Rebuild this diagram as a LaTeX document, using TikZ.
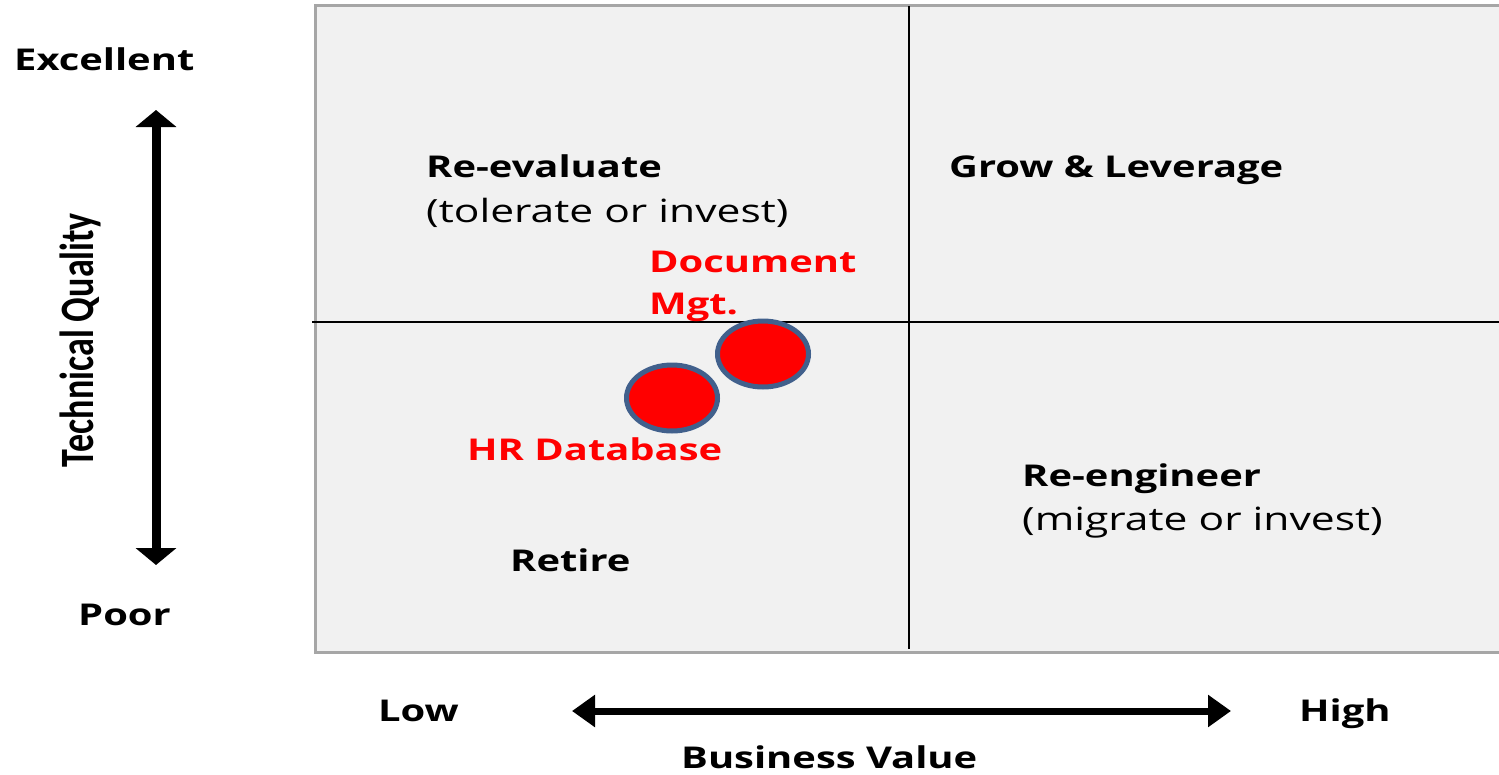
\documentclass[tikz,border=0pt]{standalone}
\usepackage{fontspec}
\setmainfont{Open Sans}[FakeStretch=1.33]
\newfontfamily\calibri{Carlito}
\usepackage{tikz}
\usetikzlibrary{arrows.meta,shapes,positioning}

\definecolor{panel}{HTML}{F1F1F1}
\definecolor{panelrule}{HTML}{A6A6A6}
\definecolor{ringblue}{HTML}{41608C}

\begin{document}
\begin{tikzpicture}[x=1bp,y=-1bp,inner sep=0pt,
font=\fontsize{32bp}{36bp}\selectfont]
\tikzstyle{quad}=[anchor=base west, font=\fontsize{30bp}{36bp}\selectfont\bfseries]
\tikzstyle{note}=[anchor=base west]
\tikzstyle{app}=[quad, text=red]
\tikzstyle{spot}=[ellipse, draw=ringblue, line width=5bp, fill=red,
 minimum width=91bp, minimum height=66bp]

\useasboundingbox (0,0) rectangle (1499,774);

%panel
\fill[panel] (315,6) rectangle (1499,652);
\draw[panelrule, line width=3bp] (1499,6) -- (315,6) -- (315,652) -- (1499,652);
\draw[line width=1.5bp] (909,6) -- (909,649);
\draw[line width=1.5bp] (312,322) -- (1499,322);

\node[quad] (REV) at (426,177) {Re-evaluate};
\node[below=45bp of REV.base west, note] (REVn) {(tolerate or invest)};

\node[quad] (GROW) at (949,177) {Grow \& Leverage};

\node[quad] (RENG) at (1022,486) {Re-engineer};
\node[below=44bp of RENG.base west, note] (RENGn) {(migrate or invest)};

\node[quad] (RET) at (510,571) {Retire};

%applications
\node[spot] (DOCs) at (763,354) {};
\node[spot] (HRs) at (672,398) {};
\node[app] (DOC) at (649,272) {Document};
\node[below=42bp of DOC.base west, app] (MGT) {Mgt.};
\node[app] (HR) at (467,460) {HR Database};

%axes
\node[quad] (EXC) at (14,71) {Excellent};
\node[quad] (POOR) at (78,625) {Poor};
\node[rotate=90, anchor=base, font=\calibri\bfseries\fontsize{36bp}{36bp}\selectfont]
 (TQ) at (93,340) {\scalebox{1}[1.33]{Technical Quality}};
\coordinate (TQtop) at (156,110);
\coordinate (TQbot) at (156,565);
\draw[line width=9bp, {Triangle[width=40bp,length=17bp]}-{Triangle[width=40bp,length=17bp]}]
 (TQtop) -- (TQbot);

\node[quad] (LOW) at (378,721) {Low};
\node[quad] (HIGH) at (1299,721) {High};
\node[quad] (BV) at (681,768) {Business Value};
\coordinate (BVlow) at (572,711);
\coordinate (BVhigh) at (1231,711);
\draw[line width=7bp, {Triangle[width=31bp,length=23bp]}-{Triangle[width=31bp,length=23bp]}]
 (BVlow) -- (BVhigh);

\end{tikzpicture}
\end{document}
